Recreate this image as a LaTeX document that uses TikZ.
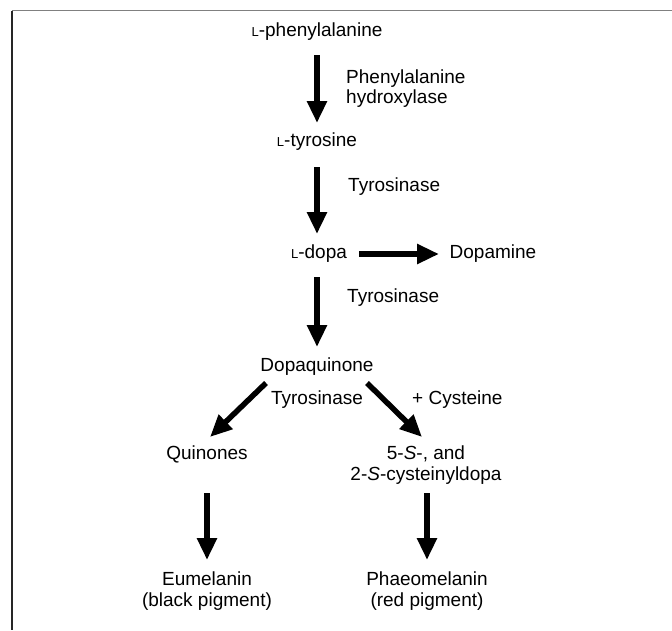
\documentclass[tikz,border=0pt]{standalone}
\usepackage{fontspec}
\setmainfont{Liberation Sans}
\usetikzlibrary{arrows.meta}
\newcommand{\smallL}{{\fontsize{13}{13}\selectfont L}}
\begin{document}
\begin{tikzpicture}[x=1pt,y=-1pt,
  lbl/.style={font=\fontsize{19}{21}\selectfont, inner sep=0pt, text height=13.6pt, text depth=4pt},
  mlbl/.style={font=\fontsize{19}{21}\selectfont, inner sep=0pt, align=center},
  enz/.style={font=\fontsize{19}{19.5}\selectfont, inner sep=0pt, align=left, anchor=west},
  arr/.style={line width=5.5pt, -{Triangle[length=22pt,width=19pt]}}]
\useasboundingbox (0,0) rectangle (672,630);
\draw[line width=1.3pt, black!50] (12,10.7) -- (672,10.7);
\draw[line width=1.3pt, black!85] (12,10.7) -- (12,630);

\node[lbl] (phe) at (317,32) {\smallL-phenylalanine};
\node[lbl] (tyr) at (317,142) {\smallL-tyrosine};
\node[lbl] (dopa) at (319,254) {\smallL-dopa};
\node[lbl] (dopamine) at (493,254) {Dopamine};
\node[lbl] (dq) at (317,367) {Dopaquinone};
\node[lbl] (qui) at (207,455) {Quinones};
\node[mlbl] (cys) at (426,465) {5-\textit{S}-, and\\2-\textit{S}-cysteinyldopa};
\node[mlbl] (eu) at (207,591) {Eumelanin\\(black pigment)};
\node[mlbl] (phaeo) at (427,591) {Phaeomelanin\\(red pigment)};

\node[enz] (e1) at (346,88.5) {Phenylalanine\\hydroxylase};
\node[enz] (e2) at (348,187) {Tyrosinase};
\node[enz] (e3) at (347,298) {Tyrosinase};
\node[lbl] (e4) at (317,400) {Tyrosinase};
\node[enz] (e5) at (412,400) {+ Cysteine};

\draw[arr] ([yshift=-23pt]phe.center) -- ([yshift=19pt]tyr.center);
\draw[arr] ([yshift=-25pt]tyr.center) -- ([xshift=-2pt,yshift=20pt]dopa.center);
\draw[arr] ([xshift=-2pt,yshift=-23pt]dopa.center) -- ([yshift=20pt]dq.center);
\draw[arr] ([xshift=40pt]dopa.center) -- ([xshift=-54pt]dopamine.center);
\draw[arr] ([shift={(-51pt,-16pt)}]dq.center) -- ([shift={(3pt,18pt)}]qui.center);
\draw[arr] ([shift={(50pt,-16pt)}]dq.center) -- ([shift={(-4pt,28pt)}]cys.center);
\draw[arr] ([yshift=-38pt]qui.center) -- ([yshift=31pt]eu.center);
\draw[arr] ([xshift=1pt,yshift=-28pt]cys.center) -- ([yshift=31pt]phaeo.center);
\end{tikzpicture}
\end{document}
